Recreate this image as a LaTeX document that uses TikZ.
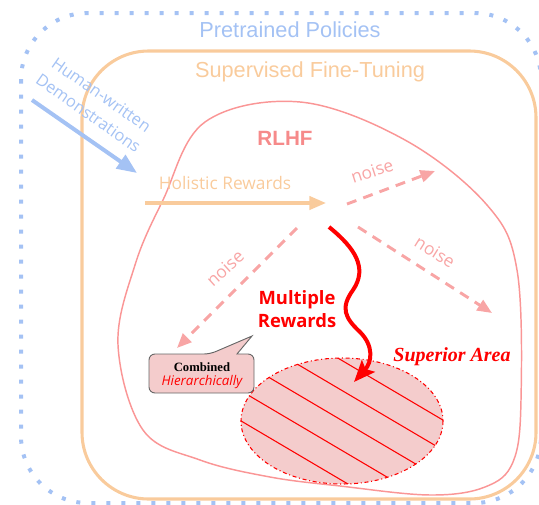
\documentclass[tikz,border=0pt]{standalone}
\usepackage{fontspec}
\setmainfont{Liberation Sans}
\newfontfamily\comicfont{Open Sans}
\newfontfamily\seriffont{Liberation Serif}
\usetikzlibrary{arrows.meta}
\definecolor{polblue}{RGB}{164,194,244}
\definecolor{sftorange}{RGB}{249,203,156}
\definecolor{rlhfline}{RGB}{250,150,150}
\definecolor{rlhftext}{RGB}{246,138,138}
\definecolor{noisepink}{RGB}{248,165,165}
\definecolor{areafill}{RGB}{244,204,204}
\tikzset{
  bigtitle/.style={font=\fontsize{16.3}{19}\selectfont},
  comictext/.style={font=\comicfont\fontsize{13}{16}\selectfont},
  noisearrow/.style={noisepink, line width=2.2pt, dash pattern=on 7.5pt off 5.5pt,
    -{Triangle[length=11pt,width=9pt]}},
  noiselabel/.style={comictext, text=noisepink},
}
\begin{document}
\begin{tikzpicture}[x=0.75pt,y=-0.75pt]
\useasboundingbox (0,0) rectangle (539,504);

% outer frame: pretrained policies
\draw[polblue, line width=3pt, dash pattern=on 3pt off 8.25pt, rounded corners=50pt]
  (21,13) rectangle (541,503);
\node[bigtitle, text=polblue] (pretrained) at (290,30) {Pretrained Policies};

% supervised fine-tuning frame
\draw[sftorange, line width=2.3pt, rounded corners=50pt] (82,51) rectangle (536,499);
\node[bigtitle, text=sftorange] (sft) at (310,72) {Supervised Fine-Tuning};

% RLHF region
\draw[rlhfline, line width=1.1pt] plot[smooth cycle, tension=0.6] coordinates {
  (300,102) (405,140) (487,205) (517,270) (521,400) (513,462) (485,487) (430,495)
  (340,486) (270,477) (200,460) (143,430) (118,345) (135,265) (163,200) (205,122)};
\node[font=\bfseries\fontsize{15.5}{18}\selectfont, text=rlhftext] (rlhf) at (285,138) {RLHF};

% human-written demonstrations
\node[text=polblue, rotate=-35, align=center, inner sep=0pt,
      font=\comicfont\fontsize{12.3}{17}\selectfont] (demo) at (95,104) {Human-written\\Demonstrations};
\coordinate (demoStart) at (32,100);
\coordinate (demoEnd) at (137,173);
\draw[polblue, line width=3pt, -{Triangle[length=15pt,width=12pt]}] (demoStart) -- (demoEnd);

% holistic rewards
\coordinate (holiStart) at (145,203);
\coordinate (holiEnd) at (326,203);
\draw[sftorange, line width=2.5pt, -{Triangle[length=12.5pt,width=10pt]}] (holiStart) -- (holiEnd);
\node[comictext, text=sftorange] (holistic) at (225,183) {Holistic Rewards};

% noise arrows
\coordinate (nAs) at (347,204);
\coordinate (nAe) at (435,171);
\coordinate (nBs) at (358,227);
\coordinate (nBe) at (492,313);
\coordinate (nCs) at (297,228);
\coordinate (nCe) at (177,348);
\draw[noisearrow] (nAs) -- (nAe);
\draw[noisearrow] (nBs) -- (nBe);
\draw[noisearrow] (nCs) -- (nCe);
\node[noiselabel, rotate=18] (noiseA) at (372,171) {noise};
\node[noiselabel, rotate=-32] (noiseB) at (435,252) {noise};
\node[noiselabel, rotate=42] (noiseC) at (225,268) {noise};

% superior area
\coordinate (area) at (342,421);
\fill[areafill] (area) ellipse [x radius=101, y radius=63];
\begin{scope}
  \clip (area) ellipse [x radius=101, y radius=63];
  \foreach \k in {-3,...,3}
    \draw[red, line width=0.8pt] (192,{420.5+30*\k-0.59*150}) -- (492,{420.5+30*\k+0.59*150});
\end{scope}
\draw[red, line width=0.8pt, dash dot] (area) ellipse [x radius=101, y radius=63];
\node[red, font=\seriffont\bfseries\itshape\fontsize{15}{18}\selectfont] (superior) at (452,357) {Superior Area};

% multiple rewards
\coordinate (multiStart) at (329,227);
\coordinate (multiEnd) at (354,382);
\draw[red, line width=3pt, -{Stealth[length=16pt,width=13pt,inset=3pt]}]
  (multiStart) .. controls (355,248) and (368,268) .. (353,290)
  .. controls (340,308) and (345,318) .. (360,332)
  .. controls (374,346) and (372,362) .. (multiEnd);
\node[red, align=center, font=\comicfont\bfseries\fontsize{13.8}{17}\selectfont] (multi) at (297,309) {Multiple\\Rewards};

% callout
\draw[gray!80!black, line width=0.7pt, fill=areafill]
  (252,336) -- (237,354) [rounded corners=4.5pt] -- (254,354) -- (254,393) -- (149,393)
  -- (149,354) -- (210,354) [sharp corners] -- cycle;
\node[font=\seriffont\bfseries\fontsize{9.5}{11}\selectfont] (combined) at (202,367) {Combined};
\node[red, font=\comicfont\itshape\fontsize{10}{12}\selectfont] (hier) at (202,382) {Hierarchically};
\end{tikzpicture}
\end{document}
